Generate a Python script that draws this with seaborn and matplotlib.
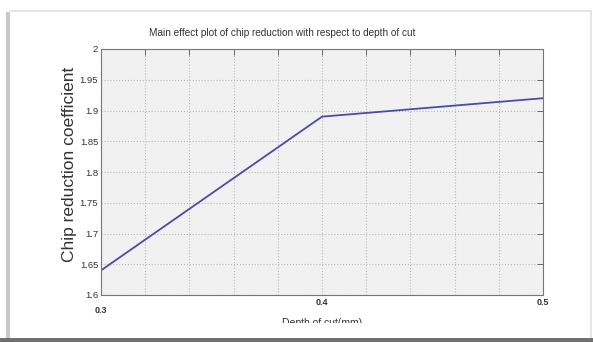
import matplotlib
matplotlib.use("Agg")
import matplotlib.pyplot as plt
import seaborn as sns
import pandas as pd
import numpy as np
from matplotlib.patches import Rectangle
from matplotlib.lines import Line2D

depth = [0.3, 0.4, 0.5]
chip_coef = [1.64, 1.89, 1.92]
y_ticks = [1.6, 1.65, 1.7, 1.75, 1.8, 1.85, 1.9, 1.95, 2.0]
y_labels = ["1.6", "1.65", "1.7", "1.75", "1.8", "1.85", "1.9", "1.95", "2"]
x_ticks = [0.3, 0.32, 0.34, 0.36, 0.38, 0.4, 0.42, 0.44, 0.46, 0.48, 0.5]
x_labels = ["0.3", "", "", "", "", "0.4", "", "", "", "", "0.5"]

sns.set_style("white")
plt.rcParams['font.family'] = ['Liberation Sans', 'DejaVu Sans']

df = pd.DataFrame({"depth": depth, "coef": chip_coef})

fig = plt.figure(figsize=(5.93, 3.42), dpi=100)
fig.patch.set_facecolor("white")
W, H = 593, 342
ax = fig.add_axes([101 / W, (H - 295) / H, 442 / W, 246 / H])
ax.set_facecolor("#f1f1f1")

sns.lineplot(data=df, x="depth", y="coef", ax=ax, color="#4b4ba8", linewidth=1.3)

ax.set_xlim(0.3, 0.5)
ax.set_ylim(1.6, 2.0)
ax.set_xticks(x_ticks)
ax.set_xticklabels(x_labels, fontsize=6.5, fontweight="bold", color="#333333")
ax.set_yticks(y_ticks)
ax.set_yticklabels(y_labels, fontsize=6.8, color="#333333")
for lab in ax.get_xticklabels():
    if lab.get_text() == "0.3":
        lab.set_y(-0.035)
ax.tick_params(direction="in", length=4, width=0.7, color="#666666",
               top=True, right=True, pad=2)
ax.grid(True, linestyle=":", color="#bbbbbb", linewidth=0.8)
for s in ax.spines.values():
    s.set_color("#777777")
    s.set_linewidth(0.8)

ax.set_title("Main effect plot of chip reduction with respect to depth of cut",
             fontsize=7.2, color="#333333", x=0.41, pad=9)
ax.set_ylabel("Chip reduction coefficient", fontsize=12.5, color="#333333")
ax.yaxis.set_label_coords(-0.054, 0.53)
ax.set_xlabel("Depth of cut(mm)", fontsize=7.5, color="#333333")
ax.xaxis.set_label_coords(0.5, -0.092)

# screenshot frame
fig.patches.append(Rectangle((0, 0), 1, 19 / H, transform=fig.transFigure,
                             facecolor="white", edgecolor="none", zorder=5))
fig.patches.append(Rectangle((0, 0), 1, 4 / H, transform=fig.transFigure,
                             facecolor="#707070", edgecolor="none", zorder=6))
fig.patches.append(Rectangle((6 / W, 4 / H), 4 / W, (H - 16) / H, transform=fig.transFigure,
                             facecolor="#c8c8c8", edgecolor="none", zorder=6))
fig.lines.append(Line2D([10 / W, 591 / W], [(H - 11) / H, (H - 11) / H],
                        transform=fig.transFigure, color="#e6e6e6", linewidth=1.5, zorder=6))
fig.lines.append(Line2D([591 / W, 591 / W], [4 / H, (H - 11) / H],
                        transform=fig.transFigure, color="#e0e0e0", linewidth=1.2, zorder=6))

fig.savefig("out.png", dpi=100)
